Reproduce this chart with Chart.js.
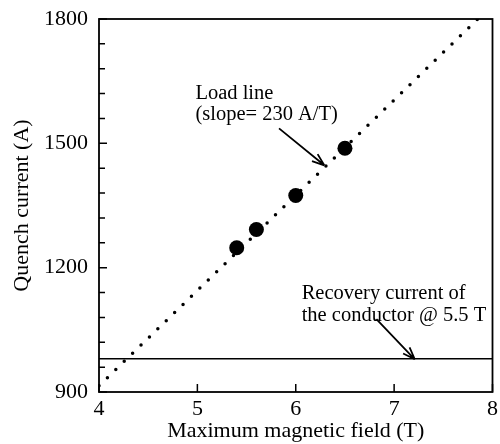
<!DOCTYPE html>
<html>
<head>
<meta charset="utf-8">
<script src="https://cdn.jsdelivr.net/npm/chart.js@4"></script>
<style>
  html, body { margin: 0; padding: 0; background: #fff; }
  #wrap { width: 500px; height: 444px; }
</style>
</head>
<body>
<div id="wrap"><canvas id="chart"></canvas></div>
<script>
// measured quench currents
const fieldT = [5.4, 5.6, 6.0, 6.5];
const quenchA = [1248, 1292, 1374, 1488];

// load line (slope 230 A/T), end points
const loadLineX = [4.0, 7.85];
const loadLineY = [915, 1800];

// recovery current of the conductor @ 5.5 T
const recoveryX = [4, 8];
const recoveryY = [980, 980];

const yTickLabels = [900, 1200, 1500, 1800];

const FONT = "'Liberation Serif', 'Times New Roman', serif";

// text + arrows, placed in data units
const notes = [
  { lines: ["Load line", "(slope= 230 A/T)"], x: 4.98, y: [1607, 1556],
    arrow: { from: [5.83, 1536], to: [6.29, 1447] } },
  { lines: ["Recovery current of", "the conductor @ 5.5 T"], x: 6.06, y: [1124, 1071],
    arrow: { from: [6.82, 1076], to: [7.21, 979] } },
];

function toXY(arrX, arrY) {
  return arrX.map((x, i) => ({ x, y: arrY[i] }));
}

function drawArrow(ctx, x1, y1, x2, y2) {
  const ang = Math.atan2(y2 - y1, x2 - x1);
  const len = 13;
  ctx.beginPath();
  ctx.moveTo(x1, y1);
  ctx.lineTo(x2, y2);
  ctx.moveTo(x2, y2);
  ctx.lineTo(x2 - len * Math.cos(ang - 0.35), y2 - len * Math.sin(ang - 0.35));
  ctx.moveTo(x2, y2);
  ctx.lineTo(x2 - len * Math.cos(ang + 0.35), y2 - len * Math.sin(ang + 0.35));
  ctx.stroke();
}

const framePlugin = {
  id: "frame",
  afterDatasetsDraw(chart) {
    const { ctx, chartArea: a, scales } = chart;
    const xs = scales.x, ys = scales.y;
    ctx.save();
    ctx.strokeStyle = "#000";
    ctx.lineWidth = 1.8;
    ctx.strokeRect(a.left, a.top, a.right - a.left, a.bottom - a.top);

    // inward tick marks
    ctx.lineWidth = 1.5;
    ctx.beginPath();
    xs.ticks.forEach((t) => {
      const px = xs.getPixelForValue(t.value);
      ctx.moveTo(px, a.bottom);
      ctx.lineTo(px, a.bottom - 8);
    });
    ys.ticks.forEach((t) => {
      const py = ys.getPixelForValue(t.value);
      const major = yTickLabels.includes(t.value);
      ctx.moveTo(a.left, py);
      ctx.lineTo(a.left + (major ? 8 : 6), py);
    });
    ctx.stroke();

    // annotations
    ctx.fillStyle = "#000";
    ctx.font = "20.5px " + FONT;
    ctx.textBaseline = "alphabetic";
    ctx.textAlign = "left";
    ctx.lineWidth = 1.8;
    notes.forEach((n) => {
      n.lines.forEach((s, i) => {
        ctx.fillText(s, xs.getPixelForValue(n.x), ys.getPixelForValue(n.y[i]));
      });
      drawArrow(ctx,
        xs.getPixelForValue(n.arrow.from[0]), ys.getPixelForValue(n.arrow.from[1]),
        xs.getPixelForValue(n.arrow.to[0]), ys.getPixelForValue(n.arrow.to[1]));
    });
    ctx.restore();
  },
};

new Chart(document.getElementById("chart"), {
  type: "line",
  data: {
    datasets: [
      {
        label: "Load line",
        data: toXY(loadLineX, loadLineY),
        borderColor: "#000",
        borderWidth: 3.5,
        borderDash: [0, 11.7],
        borderCapStyle: "round",
        pointRadius: 0,
        fill: false,
      },
      {
        label: "Recovery current",
        data: toXY(recoveryX, recoveryY),
        borderColor: "#000",
        borderWidth: 1.5,
        pointRadius: 0,
        fill: false,
      },
      {
        label: "Quench current",
        data: toXY(fieldT, quenchA),
        showLine: false,
        pointRadius: 7.5,
        pointBackgroundColor: "#000",
        pointBorderColor: "#000",
        pointBorderWidth: 0,
      },
    ],
  },
  options: {
    responsive: true,
    maintainAspectRatio: false,
    animation: false,
    layout: { padding: { top: 19, right: 5, left: 0, bottom: 0 } },
    plugins: { legend: { display: false }, tooltip: { enabled: false } },
    scales: {
      x: {
        type: "linear",
        min: 4,
        max: 8,
        grid: { display: false, drawTicks: false },
        border: { display: false },
        ticks: {
          stepSize: 1,
          padding: 4,
          color: "#000",
          font: { family: FONT, size: 22 },
        },
        title: {
          display: true,
          text: "Maximum magnetic field (T)",
          color: "#000",
          font: { family: FONT, size: 22 },
          padding: { top: 0, bottom: 0 },
        },
        afterFit: (s) => { s.height = 52; s.paddingLeft = 0; s.paddingRight = 0; },
      },
      y: {
        type: "linear",
        min: 900,
        max: 1800,
        grid: { display: false, drawTicks: false },
        border: { display: false },
        ticks: {
          stepSize: 60,
          autoSkip: false,
          padding: 11,
          color: "#000",
          font: { family: FONT, size: 22 },
          callback: (v) => (yTickLabels.includes(v) ? String(v) : ""),
        },
        title: {
          display: true,
          text: "Quench current (A)",
          color: "#000",
          font: { family: FONT, size: 22 },
          padding: { top: 9, bottom: 0 },
        },
        afterFit: (s) => { s.width = 99; s.paddingTop = 0; s.paddingBottom = 0; },
      },
    },
  },
  plugins: [framePlugin],
});
</script>
</body>
</html>
